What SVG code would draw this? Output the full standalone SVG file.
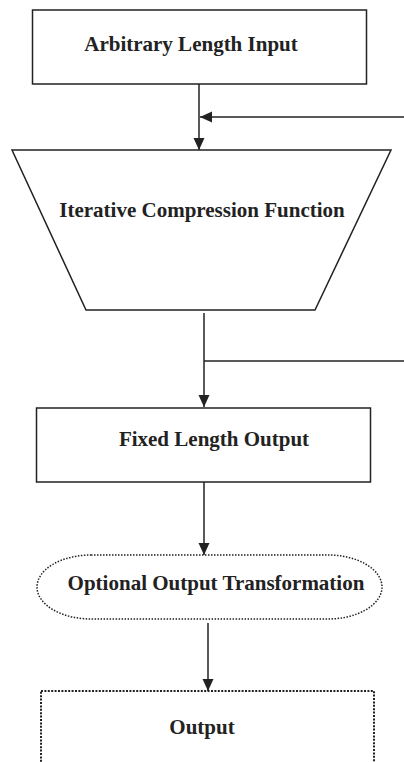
<svg xmlns="http://www.w3.org/2000/svg" width="404" height="762" viewBox="0 0 404 762">
<defs>
<style>
.solid{fill:#fff;stroke:#222;stroke-width:1.5}
.dot{fill:#fff;stroke:#222;stroke-width:1.5;stroke-dasharray:1.5 1.5}
.dot2{fill:#fff;stroke:#222;stroke-width:2;stroke-dasharray:2 1.4}
.lbl{font-family:"Liberation Serif","Times New Roman",serif;font-weight:bold;font-size:21px;fill:#222;text-anchor:middle}
.ln{fill:none;stroke:#222;stroke-width:1.5}
</style>
<marker id="ah" markerUnits="userSpaceOnUse" markerWidth="13" markerHeight="12" refX="12" refY="5.5" orient="auto">
<path d="M0,0 L12,5.5 L0,11 z" fill="#222"/>
</marker>
</defs>
<rect width="404" height="762" fill="#fff"/>
<g id="connectors">
<line class="ln" x1="199" y1="84" x2="199" y2="150" marker-end="url(#ah)"/>
<line class="ln" x1="404" y1="117" x2="200" y2="117" marker-end="url(#ah)"/>
<line class="ln" x1="204" y1="313" x2="204" y2="407" marker-end="url(#ah)"/>
<line class="ln" x1="204" y1="361" x2="404" y2="361"/>
<line class="ln" x1="204" y1="482" x2="204" y2="555" marker-end="url(#ah)"/>
<line class="ln" x1="208" y1="623" x2="208" y2="691" marker-end="url(#ah)"/>
</g>
<g id="input">
<rect class="solid" x="32.5" y="10" width="334" height="74"/>
<text class="lbl" x="191" y="51">Arbitrary Length Input</text>
</g>
<g id="compression">
<polygon class="solid" points="12,150 391,150 315,310 86,310"/>
<text class="lbl" x="202" y="217">Iterative Compression Function</text>
</g>
<g id="fixed">
<rect class="solid" x="36.5" y="408" width="334" height="74"/>
<text class="lbl" x="214" y="446">Fixed Length Output</text>
</g>
<g id="transform">
<rect class="dot" x="37" y="555" width="345" height="64" rx="54" ry="32"/>
<text class="lbl" x="216" y="590">Optional Output Transformation</text>
</g>
<g id="output">
<rect class="dot2" x="41" y="691" width="333" height="90"/>
<text class="lbl" x="202" y="734">Output</text>
</g>
</svg>
